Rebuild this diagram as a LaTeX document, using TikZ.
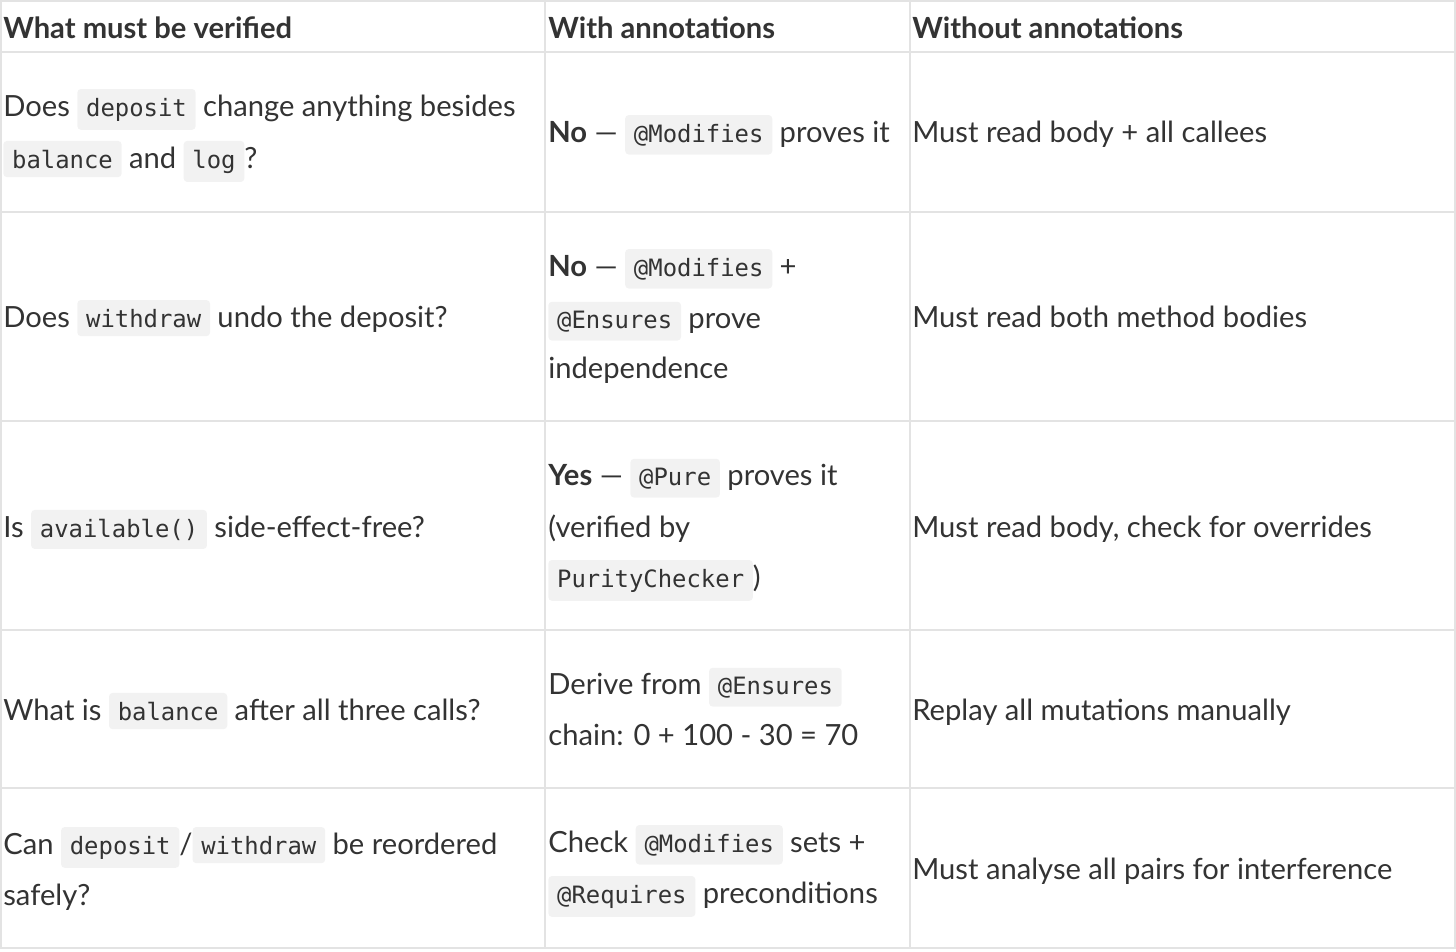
\documentclass[tikz,border=0pt]{standalone}
\usepackage{fontspec}
\setmainfont{Lato}
\setmonofont{DejaVu Sans Mono}
\usetikzlibrary{positioning}
\definecolor{ink}{HTML}{333333}
\definecolor{rule}{HTML}{E3E3E3}
\definecolor{codebg}{HTML}{F2F2F2}
\tikzset{
  txt/.style={anchor=base west,inner sep=0pt,text=ink,font=\fontsize{16.6}{19}\selectfont},
  hd/.style={txt,font=\fontsize{16.6}{19}\selectfont\bfseries},
  code/.style={fill=codebg,rounded corners=2pt,inner xsep=5pt,inner ysep=5pt,text=ink,font=\ttfamily\fontsize{13.6}{16}\selectfont},
}
\newcommand\cd[1]{\tikz[baseline=(k.base)]\node[code](k){#1};}
\begin{document}
\begin{tikzpicture}[x=0.02cm,y=-0.02cm]
\useasboundingbox (0,0) rectangle (1456,951);
%\draw[step=50,gray,very thin] (0,0) grid (1456,951);
\foreach \yy in {1,52,212,421,630,788,948}
  \draw[rule,line width=0.6pt] (0,\yy) -- (1456,\yy);
\foreach \xx in {1,545,910,1455}
  \draw[rule,line width=0.6pt] (\xx,1) -- (\xx,948);
%---------------------------------------------------
\node[hd] (h1) at (3,38) {What must be verified};
\node[hd] (h2) at (548,38) {With annotations};
\node[hd] (h3) at (912,38) {Without annotations};
%---------------------------------------------------
\node[txt] (a1) at (3,116) {Does \cd{deposit} change anything besides};
\node[txt] (a1b) at (3,168) {\cd{balance} and \cd{log}?};
\node[txt] (b1) at (548,142) {\textbf{No} — \cd{@Modifies} proves it};
\node[txt] (c1) at (912,142) {Must read body + all callees};
%---------------------------------------------------
\node[txt] (a2) at (3,327) {Does \cd{withdraw} undo the deposit?};
\node[txt] (b2) at (548,276) {\textbf{No} — \cd{@Modifies} +};
\node[txt] (b2b) at (548,328) {\cd{@Ensures} prove};
\node[txt] (b2c) at (548,378) {independence};
\node[txt] (c2) at (912,327) {Must read both method bodies};
%---------------------------------------------------
\node[txt] (a3) at (3,537) {Is \cd{available()} side-effect-free?};
\node[txt] (b3) at (548,485) {\textbf{Yes} — \cd{@Pure} proves it};
\node[txt] (b3b) at (548,537) {(verified by};
\node[txt] (b3c) at (548,587) {\cd{PurityChecker})};
\node[txt] (c3) at (912,537) {Must read body, check for overrides};
%---------------------------------------------------
\node[txt] (a4) at (3,720) {What is \cd{balance} after all three calls?};
\node[txt] (b4) at (548,694) {Derive from \cd{@Ensures}};
\node[txt] (b4b) at (548,745) {chain: 0 + 100 - 30 = 70};
\node[txt] (c4) at (912,720) {Replay all mutations manually};
%---------------------------------------------------
\node[txt] (a5) at (3,854) {Can \cd{deposit}/\cd{withdraw} be reordered};
\node[txt] (a5b) at (3,905) {safely?};
\node[txt] (b5) at (548,852) {Check \cd{@Modifies} sets +};
\node[txt] (b5b) at (548,903) {\cd{@Requires} preconditions};
\node[txt] (c5) at (912,879) {Must analyse all pairs for interference};
\end{tikzpicture}
\end{document}
